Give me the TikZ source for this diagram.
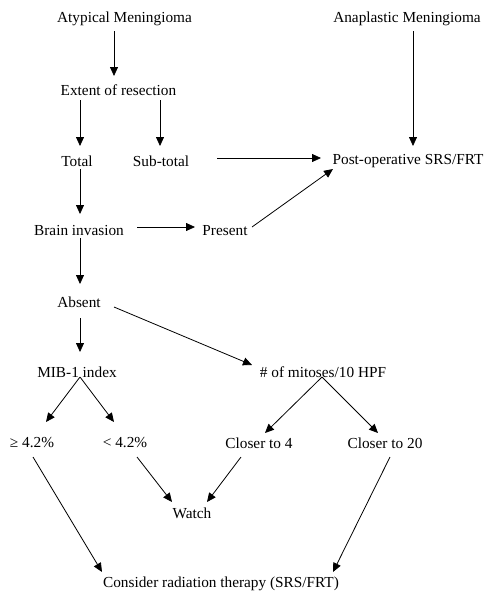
\documentclass[tikz,border=0pt]{standalone}
\usepackage{fontspec}
\setmainfont{Liberation Serif}
\usetikzlibrary{arrows.meta,calc}
\begin{document}
\begin{tikzpicture}[x=1pt,y=-1pt,
  lbl/.style={inner sep=0pt,font=\fontsize{15.3}{18}\selectfont,anchor=center},
  arr/.style={draw=black,line width=0.8pt,-{Triangle[length=9pt,width=8pt]}}]
\useasboundingbox[fill=white] (0,0) rectangle (485,592);
\node[lbl] (atyp) at (124.5,19) {Atypical Meningioma};
\node[lbl] (anap) at (407,19) {Anaplastic Meningioma};
\node[lbl] (ext) at (118.5,90) {Extent of resection};
\node[lbl] (total) at (77,161) {Total};
\node[lbl] (sub) at (161,161) {Sub-total};
\node[lbl] (post) at (408,161) {Post-operative SRS/FRT};
\node[lbl] (brain) at (79,231) {Brain invasion};
\node[lbl] (present) at (225,231) {Present};
\node[lbl] (absent) at (79,302) {Absent};
\node[lbl] (mib) at (77,372) {MIB-1 index};
\node[lbl] (mit) at (323,372) {\# of mitoses/10 HPF};
\node[lbl] (ge) at (32,443) {≥ 4.2\%};
\node[lbl] (lt) at (125,443) {< 4.2\%};
\node[lbl] (c4) at (259,443) {Closer to 4};
\node[lbl] (c20) at (385,443) {Closer to 20};
\node[lbl] (watch) at (192,513) {Watch};
\node[lbl] (consider) at (221,584) {Consider radiation therapy (SRS/FRT)};

\draw[arr] ($(atyp)+(-10.5,12)$) -- ($(ext)+(-4.5,-14)$);
\draw[arr] ($(anap)+(6,12)$) -- ($(post)+(5,-15)$);
\draw[arr] ($(ext)+(-38.5,10)$) -- ($(total)+(3,-15)$);
\draw[arr] ($(ext)+(41.5,10)$) -- ($(sub)+(-1,-15)$);
\draw[arr] ($(sub)+(56,-3)$) -- ($(post)+(-87,-3)$);
\draw[arr] ($(total)+(3,8)$) -- ($(brain)+(1,-17)$);
\draw[arr] ($(brain)+(58,-4)$) -- ($(present)+(-30,-4)$);
\draw[arr] ($(present)+(27,-4)$) -- ($(post)+(-75,8)$);
\draw[arr] ($(brain)+(1,7)$) -- ($(absent)+(1,-18)$);
\draw[arr] ($(absent)+(1,16)$) -- ($(mib)+(3,-20)$);
\draw[arr] ($(absent)+(35,5)$) -- ($(mit)+(-71,-7)$);
\draw[arr] ($(mib)+(3,5)$) -- ($(ge)+(14,-21)$);
\draw[arr] ($(mib)+(3,5)$) -- ($(lt)+(-11,-21)$);
\draw[arr] ($(mit)+(-1,5)$) -- ($(c4)+(6,-10)$);
\draw[arr] ($(mit)+(-1,5)$) -- ($(c20)+(-7,-10)$);
\draw[arr] ($(ge)+(1,14)$) -- ($(consider)+(-119,-12)$);
\draw[arr] ($(lt)+(12,14)$) -- ($(watch)+(-20,-11)$);
\draw[arr] ($(c4)+(-18,14)$) -- ($(watch)+(15,-11)$);
\draw[arr] ($(c20)+(5,14)$) -- ($(consider)+(112,-12)$);
\end{tikzpicture}
\end{document}
